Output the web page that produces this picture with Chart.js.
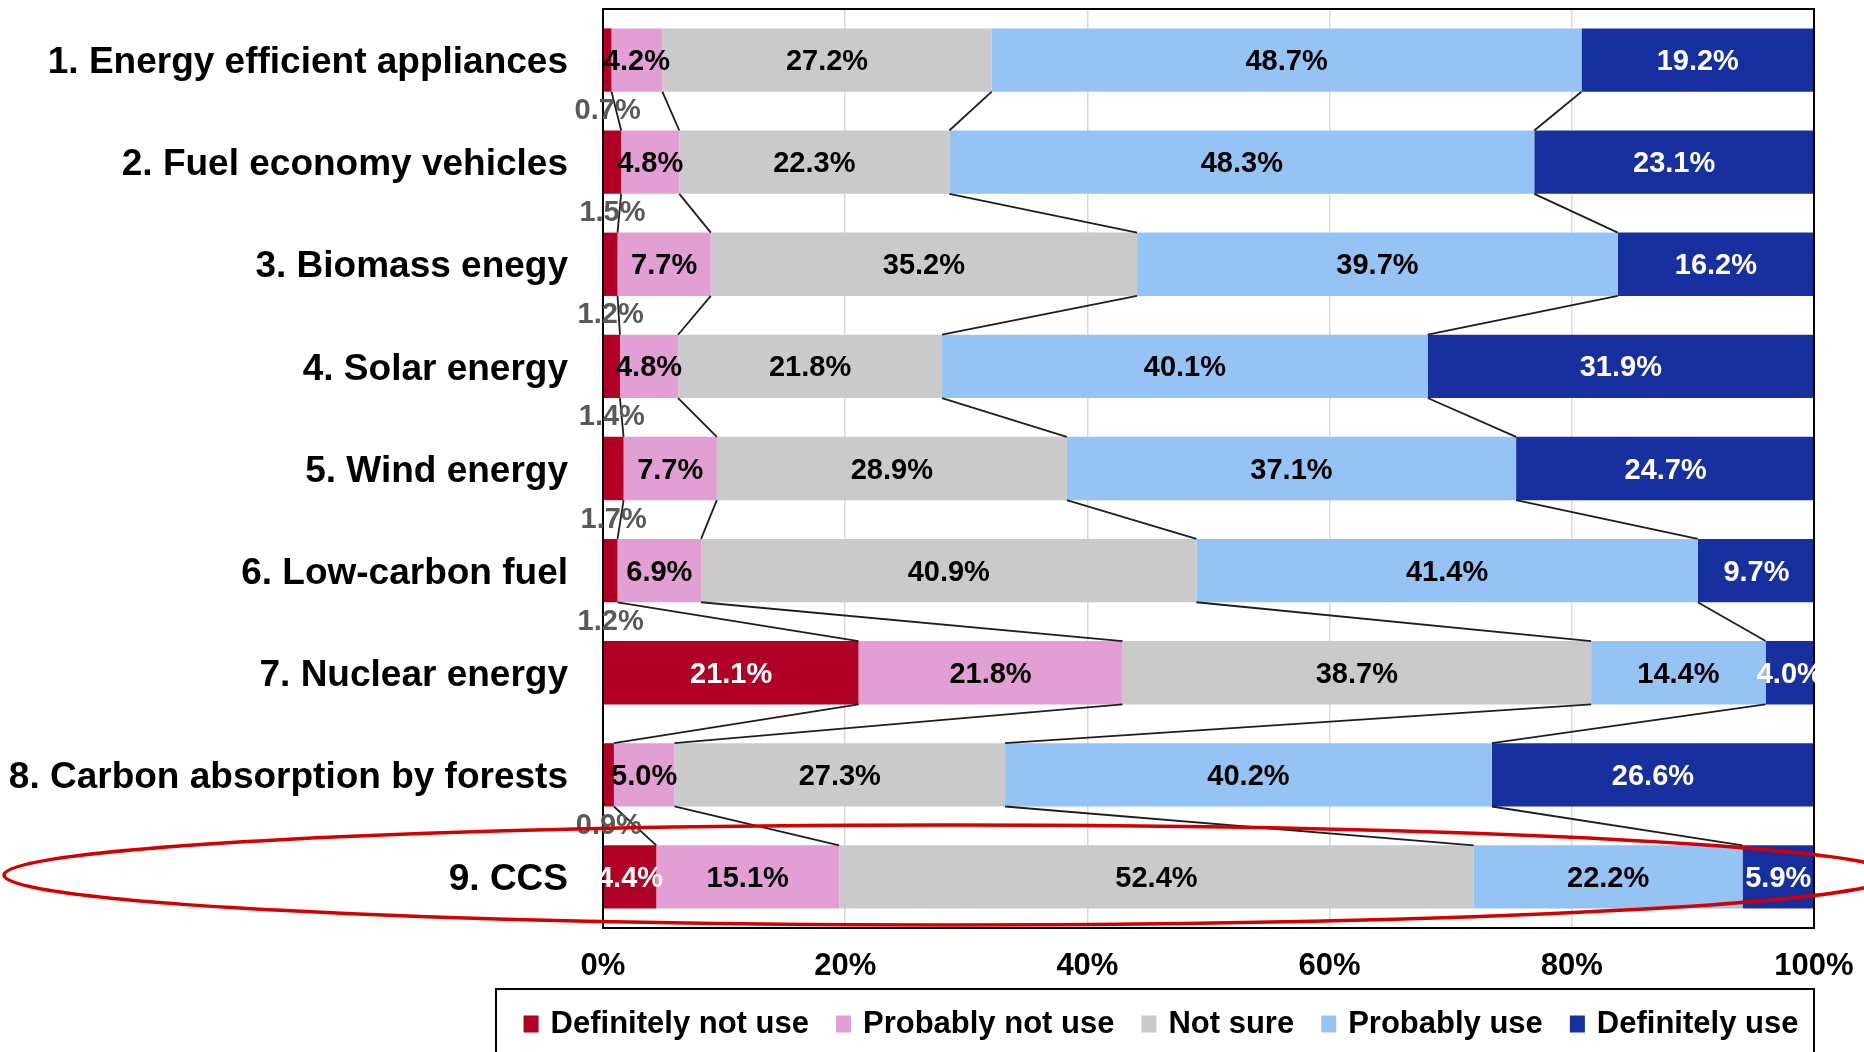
<!doctype html>
<html lang="en">
<head>
<meta charset="utf-8" />
<title>Willingness to use low-carbon options</title>
<script src="https://cdn.jsdelivr.net/npm/chart.js@4.4.1/dist/chart.umd.min.js"></script>
<style>
    html, body { margin: 0; padding: 0; background: #fff; }
    #divchart { width: 1864px; height: 1052px; }
</style>
</head>
<body>
<div id="divchart">
    <canvas id="myChart" width="1864" height="1052"></canvas>
</div>
<script>
    const categories = [
        '1. Energy efficient appliances',
        '2. Fuel economy vehicles',
        '3. Biomass enegy',
        '4. Solar energy',
        '5. Wind energy',
        '6. Low-carbon fuel',
        '7. Nuclear energy',
        '8. Carbon absorption by forests',
        '9. CCS'
    ];
    const seriesNames = ['Definitely not use', 'Probably not use', 'Not sure', 'Probably use', 'Definitely use'];
    const definitelyNotUse = [0.7, 1.5, 1.2, 1.4, 1.7, 1.2, 21.1, 0.9, 4.4];
    const probablyNotUse = [4.2, 4.8, 7.7, 4.8, 7.7, 6.9, 21.8, 5.0, 15.1];
    const notSure = [27.2, 22.3, 35.2, 21.8, 28.9, 40.9, 38.7, 27.3, 52.4];
    const probablyUse = [48.7, 48.3, 39.7, 40.1, 37.1, 41.4, 14.4, 40.2, 22.2];
    const definitelyUse = [19.2, 23.1, 16.2, 31.9, 24.7, 9.7, 4.0, 26.6, 5.9];
    const tickLabels = ['0%', '20%', '40%', '60%', '80%', '100%'];

    const colors = ['#b00026', '#e29fd3', '#cacaca', '#94c3f4', '#172f9f'];
    const labelColors = ['#ffffff', '#000000', '#000000', '#000000', '#ffffff'];
    const FONT = '"Liberation Sans", Arial, sans-serif';

    const seriesValues = [definitelyNotUse, probablyNotUse, notSure, probablyUse, definitelyUse];

    // series lines between bars, plot frame and value labels
    const barDecorations = {
        id: 'barDecorations',
        afterDatasetsDraw(chart) {
            const ctx = chart.ctx;
            const area = chart.chartArea;
            ctx.save();

            ctx.strokeStyle = '#1e1e1e';
            ctx.lineWidth = 1.8;
            for (let d = 0; d < 4; d++) {
                const bars = chart.getDatasetMeta(d).data;
                for (let i = 0; i < bars.length - 1; i++) {
                    const a = bars[i], b = bars[i + 1];
                    ctx.beginPath();
                    ctx.moveTo(a.x, a.y + a.height / 2);
                    ctx.lineTo(b.x, b.y - b.height / 2);
                    ctx.stroke();
                }
            }

            ctx.strokeStyle = '#000';
            ctx.lineWidth = 2;
            ctx.strokeRect(area.left, area.top, area.right - area.left, area.bottom - area.top);

            ctx.font = 'bold 29px ' + FONT;
            ctx.textAlign = 'center';
            ctx.textBaseline = 'middle';
            for (let d = 0; d < 5; d++) {
                const bars = chart.getDatasetMeta(d).data;
                const half = (bars[1].y - bars[0].y) / 2;
                seriesValues[d].forEach((v, i) => {
                    const el = bars[i];
                    const cx = (el.x + el.base) / 2;
                    const text = v.toFixed(1) + '%';
                    if (d === 0 && v < 2) {
                        ctx.fillStyle = '#595959';
                        ctx.fillText(text, cx, el.y + half);
                    } else {
                        ctx.fillStyle = labelColors[d];
                        ctx.fillText(text, cx, el.y + 2);
                    }
                });
            }
            ctx.restore();
        },
        afterDraw(chart) {
            const ctx = chart.ctx;
            ctx.save();

            // boxed legend under the axis
            ctx.strokeStyle = '#000';
            ctx.lineWidth = 2;
            ctx.strokeRect(496, 989, 1318, 80);
            ctx.font = 'bold 31px ' + FONT;
            ctx.textBaseline = 'middle';
            const boxW = 15, boxH = 17, gap = 12, spacing = 27;
            const widths = seriesNames.map(n => ctx.measureText(n).width);
            const total = widths.reduce((s, w) => s + w + boxW + gap, 0) + spacing * (seriesNames.length - 1);
            let x = 1161 - total / 2;
            const y = 1024;
            seriesNames.forEach((name, i) => {
                ctx.fillStyle = colors[i];
                ctx.fillRect(x, y - boxH / 2, boxW, boxH);
                ctx.fillStyle = '#000';
                ctx.fillText(name, x + boxW + gap, y);
                x += boxW + gap + widths[i] + spacing;
            });

            // highlight ring around the CCS row
            ctx.strokeStyle = '#d40000';
            ctx.lineWidth = 3.5;
            ctx.beginPath();
            ctx.ellipse(950, 875, 946, 50, 0, 0, Math.PI * 2);
            ctx.stroke();
            ctx.restore();
        }
    };

    const ctx = document.getElementById('myChart').getContext('2d');
    const myChart = new Chart(ctx, {
        type: 'bar',
        data: {
            labels: categories,
            datasets: seriesNames.map((name, d) => ({
                label: name,
                data: seriesValues[d],
                backgroundColor: colors[d],
                borderWidth: 0,
                barPercentage: 0.62,
                categoryPercentage: 1.0
            }))
        },
        options: {
            indexAxis: 'y',
            responsive: false,
            animation: false,
            layout: { padding: { top: 9, right: 50, bottom: 0, left: 0 } },
            plugins: {
                legend: { display: false },
                tooltip: { enabled: false }
            },
            scales: {
                x: {
                    stacked: true,
                    min: 0,
                    max: 100,
                    afterFit(scale) { scale.height = 124; },
                    ticks: {
                        stepSize: 20,
                        autoSkip: false,
                        maxRotation: 0,
                        padding: 0,
                        color: '#000',
                        font: { family: FONT, size: 31, weight: 'bold' },
                        callback: (v, i) => tickLabels[i]
                    },
                    grid: {
                        drawTicks: true,
                        tickLength: 20,
                        tickColor: 'rgba(0,0,0,0)',
                        lineWidth: 1.5,
                        color: c => (c.tick && (c.tick.value === 0 || c.tick.value === 100)) ? 'rgba(0,0,0,0)' : '#d9d9d9'
                    },
                    border: { display: false }
                },
                y: {
                    stacked: true,
                    afterFit(scale) { scale.width = 603; },
                    ticks: {
                        padding: 0,
                        labelOffset: 3,
                        color: '#000',
                        font: { family: FONT, size: 37, weight: 'bold', lineHeight: 0.4 }
                    },
                    grid: { display: false, drawTicks: true, tickLength: 35 },
                    border: { display: false }
                }
            }
        },
        plugins: [barDecorations]
    });
</script>
</body>
</html>
